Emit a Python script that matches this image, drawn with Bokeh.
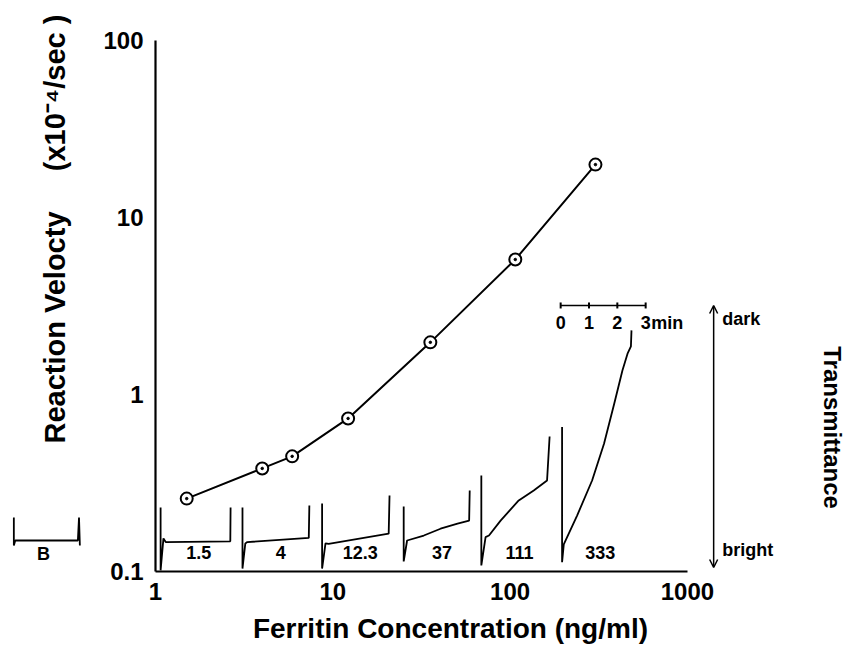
import math
from bokeh.plotting import figure
from bokeh.models import (Range1d, LinearScale, FixedTicker, CustomJSTickFormatter,
                          Arrow, OpenHead)
from bokeh.core.properties import value
from bokeh.embed import file_html
from bokeh.resources import INLINE

# ---------------- data ----------------
conc = [1.5, 4, 5.9, 12.2, 35.5, 107, 303]                  # ng/ml
velocity = [0.258, 0.382, 0.447, 0.732, 1.97, 5.79, 19.9]   # x10^-4 /sec

x_ticks = [1, 10, 100, 1000]
y_ticks = [0.1, 1, 10, 100]

# transmittance recordings: time (min) from the start of each record,
# T = % of full scale from bright (0) to dark (100)
trace_labels = ["1.5", "4", "12.3", "37", "111", "333"]
trace_start_min = [0.18, 3.07, 5.88, 8.76, 11.50, 14.35]
trace_t = [
    [0, 0, 0.10, 0.18, 2.46, 2.47],
    [0, 0, 0.10, 0.17, 2.34, 2.36],
    [0, 0, 0.12, 0.23, 2.35, 2.38],
    [0, 0, 0.12, 0.71, 1.30, 1.90, 2.31, 2.33],
    [0, 0, 0.15, 0.27, 0.68, 1.32, 1.85, 2.32, 2.41],
    [0, 0, 0.06, 0.53, 1.06, 1.48, 1.84, 2.13, 2.31, 2.43, 2.45],
]
trace_T = [
    [22.9, -1.1, 11.1, 9.7, 10.0, 22.9],
    [22.9, -0.4, 9.2, 9.7, 11.3, 23.7],
    [24.4, -0.4, 9.2, 9.0, 12.9, 27.5],
    [23.3, 2.3, 10.3, 12.2, 14.8, 16.7, 17.9, 29.4],
    [35.1, 0.8, 11.6, 12.2, 17.9, 25.6, 29.4, 33.2, 50.0],
    [53.6, 2.0, 8.8, 19.8, 33.2, 47.2, 62.5, 75.2, 81.6, 84.4, 90.5],
]
blank_label = "B"
blank_start_min = -5.0
blank_t = [0, 0, 0.05, 2.26, 2.30, 2.33]
blank_T = [19.1, 8.4, 10.3, 10.3, 19.1, 8.4]

time_scale_min = [0, 1, 2, 3]
time_scale_labels = ["0", "1", "2", "3"]

# ---------------- styles / layout ----------------
FONT = "Liberation Sans"
W, H = 850, 648
X_RANGE = (0.1336, 8318)      # log axis, frame covers the whole canvas
Y_RANGE = (0.0367, 168.3)
TIME_RANGE = (-5.471, 24.53)  # minutes across the canvas
TRANS_RANGE = (-30.92, 216.4)
SCALE_BAR_START = 14.3
ARROW_T = 19.7
LABEL_T_OFF = 1.35

p = figure(width=W, height=H, x_axis_type="log", y_axis_type="log",
           x_range=Range1d(*X_RANGE), y_range=Range1d(*Y_RANGE),
           output_backend="svg", toolbar_location=None, title=None,
           min_border_left=0, min_border_right=0, min_border_top=0, min_border_bottom=0)
p.extra_x_ranges = {"time": Range1d(*TIME_RANGE)}
p.extra_y_ranges = {"trans": Range1d(*TRANS_RANGE)}
p.extra_x_scales = {"time": LinearScale()}
p.extra_y_scales = {"trans": LinearScale()}

p.xgrid.visible = False
p.ygrid.visible = False
p.outline_line_color = None
p.background_fill_color = "white"
p.border_fill_color = "white"

fmt = CustomJSTickFormatter(code="return tick.toString()")
xax, yax = p.xaxis[0], p.yaxis[0]
xax.fixed_location = y_ticks[0]
yax.fixed_location = x_ticks[0]
for ax, ticks in ((xax, x_ticks), (yax, y_ticks)):
    ax.ticker = FixedTicker(ticks=ticks)
    ax.formatter = fmt
    ax.bounds = (ticks[0], ticks[-1])
    ax.axis_line_width = 2.2
    ax.axis_line_color = "black"
    ax.major_tick_line_color = None
    ax.minor_tick_line_color = None
    ax.major_label_text_font = FONT
    ax.major_label_text_font_style = "bold"
    ax.major_label_text_font_size = "24px"
    ax.major_label_text_color = "black"
    ax.major_label_standoff = 6

txt = dict(x_range_name="time", y_range_name="trans", text_font=value(FONT),
           text_font_style="bold", text_color="black")

# axis titles
p.text(x=[-3.53], y=[47.3], text=["Reaction Velocty" + "\u00a0" * 5 + "(x10\u207b\u2074/sec )"],
       angle=math.pi / 2, text_font_size="29px", text_align="left", text_baseline="alphabetic", **txt)
p.text(x=[10.41], y=[-23.3], text=["Ferritin Concentration (ng/ml)"],
       text_font_size="28px", text_align="center", text_baseline="alphabetic", **txt)

# ---- velocity curve ----
p.line(conc, velocity, line_width=2, color="black")
p.scatter(conc, velocity, size=12, fill_color="white", line_color="black", line_width=2)
p.scatter(conc, velocity, size=2.5, color="black")

# ---- transmittance traces ----
for start, ts, Ts in zip(trace_start_min, trace_t, trace_T):
    p.line([start + t for t in ts], Ts, x_range_name="time", y_range_name="trans",
           line_width=1.8, color="black")
p.text(x=[s + LABEL_T_OFF for s in trace_start_min], y=[5.7] * len(trace_labels), text=trace_labels,
       text_font_size="18px", text_align="center", text_baseline="middle", **txt)

# blank record
p.line([blank_start_min + t for t in blank_t], blank_T, x_range_name="time", y_range_name="trans",
       line_width=1.8, color="black")
p.text(x=[blank_start_min + 1.05], y=[5.0], text=[blank_label],
       text_font_size="18px", text_align="center", text_baseline="middle", **txt)

# time scale bar
sx = [SCALE_BAR_START + t for t in time_scale_min]
p.line(sx, [100] * len(sx), x_range_name="time", y_range_name="trans", line_width=1.5, color="black")
p.scatter(sx, [100] * len(sx), marker="dash", angle=math.pi / 2, size=6, line_width=2, color="black",
          x_range_name="time", y_range_name="trans")
p.text(x=sx, y=[93.5] * len(sx), text=time_scale_labels,
       text_font_size="18px", text_align="center", text_baseline="middle", **txt)
p.text(x=[SCALE_BAR_START + 3.2], y=[93.5], text=["min"],
       text_font_size="18px", text_align="left", text_baseline="middle", **txt)

# dark / bright arrow
p.add_layout(Arrow(x_start=ARROW_T, y_start=0, x_end=ARROW_T, y_end=100,
                   start=OpenHead(size=8, line_width=1.5), end=OpenHead(size=8, line_width=1.5),
                   line_width=1.5, line_color="black", x_range_name="time", y_range_name="trans"))
p.text(x=[ARROW_T + 0.3, ARROW_T + 0.3], y=[95.0, 6.5], text=["dark", "bright"],
       text_font_size="18px", text_align="left", text_baseline="middle", **txt)
p.text(x=[23.9], y=[53.4], text=["Transmittance"], angle=-math.pi / 2,
       text_font_size="24px", text_align="center", text_baseline="middle", **txt)

open("out.html", "w").write(file_html(p, INLINE))
